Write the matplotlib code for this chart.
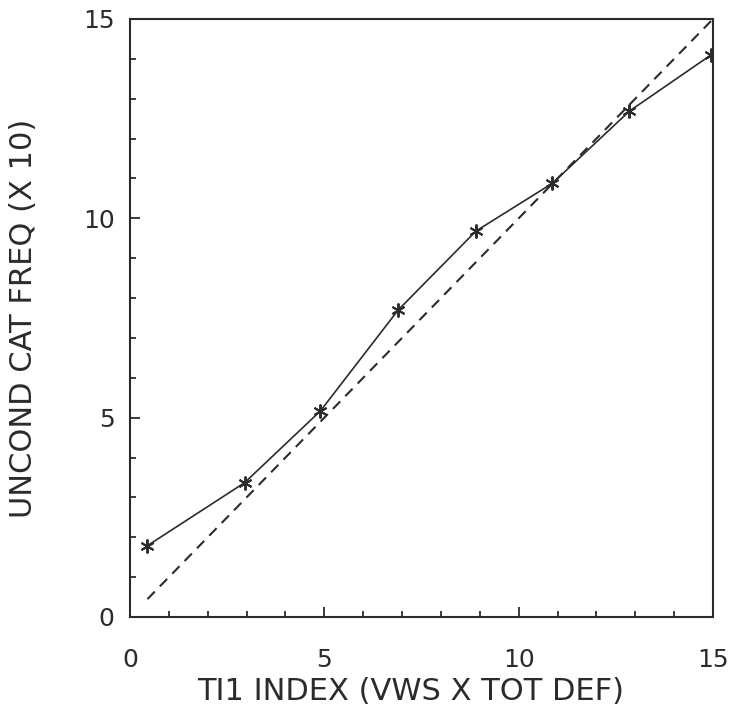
import matplotlib
matplotlib.use("Agg")
import matplotlib.pyplot as plt
from matplotlib.ticker import MultipleLocator

# Data
ti1_index = [0.45, 2.95, 4.9, 6.9, 8.9, 10.87, 12.85, 14.95]
uncond_freq = [1.79, 3.37, 5.17, 7.70, 9.68, 10.88, 12.69, 14.1]
ref_x = [0.45, 15.0]
ref_y = [0.45, 15.0]
x_ticks = [0, 5, 10, 15]
y_ticks = [0, 5, 10, 15]
x_label = "TI1 INDEX (VWS X TOT DEF)"
y_label = "UNCOND CAT FREQ (X 10)"

ink = "#2b2b2b"
plt.rcParams['font.family'] = ['DejaVu Sans']

fig = plt.figure(figsize=(7.33, 7.08), dpi=100)
ax = fig.add_axes([130/733, 1 - 617/708, 583/733, 598/708])

ax.plot(ref_x, ref_y, linestyle=(0, (5, 3.5)), color=ink, linewidth=1.5)
ax.plot(ti1_index, uncond_freq, color=ink, linewidth=1.2,
        marker=(6, 2, 0), markersize=10, markeredgewidth=1.4,
        markeredgecolor=ink)

ax.set_xlim(0, 15)
ax.set_ylim(0, 15)
ax.set_xticks(x_ticks)
ax.set_yticks(y_ticks)
ax.xaxis.set_minor_locator(MultipleLocator(1))
ax.yaxis.set_minor_locator(MultipleLocator(1))

ax.tick_params(which='both', direction='in', top=False, right=False,
               color=ink, width=1.3)
ax.tick_params(which='major', length=7)
ax.tick_params(which='minor', length=4.5)
ax.tick_params(axis='x', which='major', pad=22, labelsize=18, labelcolor=ink)
ax.tick_params(axis='y', which='major', pad=11, labelsize=18, labelcolor=ink)

for s in ax.spines.values():
    s.set_linewidth(1.5)
    s.set_color(ink)

ax.set_xlabel(x_label, fontsize=22, color=ink, va='center')
ax.xaxis.set_label_coords(0.482, -0.125)
ax.set_ylabel(y_label, fontsize=22, color=ink, va='center')
ax.yaxis.set_label_coords(-0.182, 0.5)

fig.savefig("out.png", dpi=100)
